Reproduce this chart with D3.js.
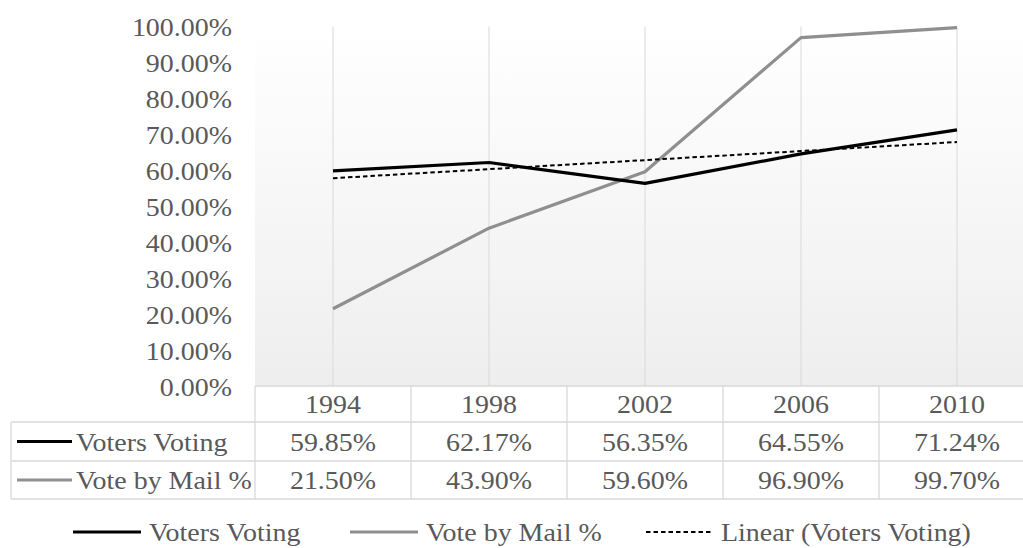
<!DOCTYPE html>
<html>
<head>
<meta charset="utf-8">
<script src="https://cdn.jsdelivr.net/npm/d3@7"></script>
<style>
  html, body { margin: 0; padding: 0; background: #fff; }
  svg { display: block; }
</style>
</head>
<body>
<svg id="chart" width="1023" height="548" font-family="'Liberation Serif', 'Times New Roman', serif"></svg>
<script>
// Election years and turnout series
const years = ["1994", "1998", "2002", "2006", "2010"];
const votersVoting = [59.85, 62.17, 56.35, 64.55, 71.24];
const voteByMail = [21.50, 43.90, 59.60, 96.90, 99.70];
const yTicks = [0, 10, 20, 30, 40, 50, 60, 70, 80, 90, 100];
const seriesNames = ["Voters Voting", "Vote by Mail %"];
const legendNames = ["Voters Voting", "Vote by Mail %", "Linear (Voters Voting)"];

const plot = { left: 255, right: 1035, top: 26.5, bottom: 386 };
const rowH = [36, 39, 38];
const FS = 26;          // font size
const SX = 1.075;       // horizontal stretch of the label face
const FONT = "'Liberation Serif', 'Times New Roman', serif";
const TXT = "#595959";
const gridColor = "#d9d9d9";
const colors = { voters: "#000000", mail: "#8f8f8f" };

const svg = d3.select("#chart");

// text helper: places a slightly widened serif label at (x, y)
function label(parent, x, y, str, anchor) {
  return parent.append("text")
    .attr("transform", `translate(${x},${y}) scale(${SX},1)`)
    .attr("dy", "0.35em")
    .attr("text-anchor", anchor || "start")
    .style("font-family", FONT)
    .style("font-size", FS + "px")
    .style("fill", TXT)
    .text(str);
}

const x = d3.scaleBand().domain(years).range([plot.left, plot.right]);
const y = d3.scaleLinear().domain([0, 100]).range([plot.bottom, plot.top]);
const cx = d => x(d) + x.bandwidth() / 2;

// plot area gradient background
const defs = svg.append("defs");
const grad = defs.append("linearGradient").attr("id", "bg")
  .attr("x1", 0).attr("y1", 0).attr("x2", 0).attr("y2", 1);
grad.append("stop").attr("offset", "0%").attr("stop-color", "#ffffff");
grad.append("stop").attr("offset", "100%").attr("stop-color", "#eeeeee");

svg.append("rect")
  .attr("x", plot.left).attr("y", plot.top)
  .attr("width", plot.right - plot.left).attr("height", plot.bottom - plot.top)
  .attr("fill", "url(#bg)");

// vertical gridlines at category centres
svg.append("g").selectAll("line").data(years).join("line")
  .attr("x1", cx).attr("x2", cx)
  .attr("y1", plot.top).attr("y2", plot.bottom)
  .attr("stroke", gridColor).attr("stroke-width", 1);

// y axis labels
const yAxis = d3.axisLeft(y).tickValues(yTicks)
  .tickFormat(d => d3.format(".2f")(d) + "%")
  .tickSize(0).tickPadding(0);
const gy = svg.append("g").attr("transform", "translate(232,0)").call(yAxis);
gy.select(".domain").remove();
gy.selectAll("text")
  .attr("transform", `scale(${SX},1)`)
  .attr("dy", "0.35em")
  .style("font-family", FONT)
  .style("font-size", FS + "px")
  .style("fill", TXT);

// trendline: least-squares fit of Voters Voting over category index
const n = votersVoting.length;
const idx = d3.range(1, n + 1);
const mx = d3.mean(idx), my = d3.mean(votersVoting);
const slope = d3.sum(idx, (i, k) => (i - mx) * (votersVoting[k] - my)) /
              d3.sum(idx, i => (i - mx) * (i - mx));
const intercept = my - slope * mx;
const trend = idx.map(i => intercept + slope * i);

const line = d3.line().x(d => cx(d[0])).y(d => y(d[1]));

svg.append("path").datum(years.map((yr, i) => [yr, voteByMail[i]]))
  .attr("d", line).attr("fill", "none")
  .attr("stroke", colors.mail).attr("stroke-width", 3.2).attr("stroke-linejoin", "round");

svg.append("path").datum(years.map((yr, i) => [yr, votersVoting[i]]))
  .attr("d", line).attr("fill", "none")
  .attr("stroke", colors.voters).attr("stroke-width", 3.2).attr("stroke-linejoin", "round");

svg.append("path").datum(years.map((yr, i) => [yr, trend[i]]))
  .attr("d", line).attr("fill", "none")
  .attr("stroke", "#000").attr("stroke-width", 2).attr("stroke-dasharray", "4.5,3");

// data table
const tTop = plot.bottom;
const rowY = [tTop, tTop + rowH[0], tTop + rowH[0] + rowH[1], tTop + rowH[0] + rowH[1] + rowH[2]];
const tableLeft = 11;
const tg = svg.append("g");
const lineStyle = sel => sel.attr("stroke", gridColor).attr("stroke-width", 1.3).attr("fill", "none");

// horizontal rules
tg.append("line").attr("x1", plot.left).attr("x2", plot.right).attr("y1", rowY[0]).attr("y2", rowY[0]).call(lineStyle);
[1, 2, 3].forEach(r => {
  tg.append("line").attr("x1", tableLeft).attr("x2", plot.right)
    .attr("y1", rowY[r]).attr("y2", rowY[r]).call(lineStyle);
});
// vertical rules
tg.append("line").attr("x1", tableLeft).attr("x2", tableLeft).attr("y1", rowY[1]).attr("y2", rowY[3]).call(lineStyle);
const colEdges = years.map(d => x(d)).concat([plot.right]);
tg.selectAll("line.col").data(colEdges).join("line").attr("class", "col")
  .attr("x1", d => d).attr("x2", d => d).attr("y1", rowY[0]).attr("y2", rowY[3]).call(lineStyle);

// header row (years)
years.forEach(yr => label(tg, cx(yr), (rowY[0] + rowY[1]) / 2, yr, "middle"));

const fmt = v => d3.format(".2f")(v) + "%";
[votersVoting, voteByMail].forEach((vals, r) => {
  const yc = (rowY[r + 1] + rowY[r + 2]) / 2;
  vals.forEach((v, i) => label(tg, cx(years[i]), yc, fmt(v), "middle"));
  tg.append("line").attr("x1", 17).attr("x2", 72).attr("y1", yc).attr("y2", yc)
    .attr("stroke", r === 0 ? colors.voters : colors.mail).attr("stroke-width", 3.2);
  label(tg, 76, yc, seriesNames[r]);
});

// legend
const legY = 532;
const legItems = [
  { name: legendNames[0], x0: 73, x1: 141, color: colors.voters, w: 3.2, dash: null },
  { name: legendNames[1], x0: 350, x1: 418, color: colors.mail, w: 3.2, dash: null },
  { name: legendNames[2], x0: 646, x1: 713, color: "#000", w: 2, dash: "4.5,3" }
];
const lg = svg.append("g");
legItems.forEach(it => {
  lg.append("line").attr("x1", it.x0).attr("x2", it.x1).attr("y1", legY).attr("y2", legY)
    .attr("stroke", it.color).attr("stroke-width", it.w)
    .attr("stroke-dasharray", it.dash);
  label(lg, it.x1 + 8, legY, it.name);
});
</script>
</body>
</html>
